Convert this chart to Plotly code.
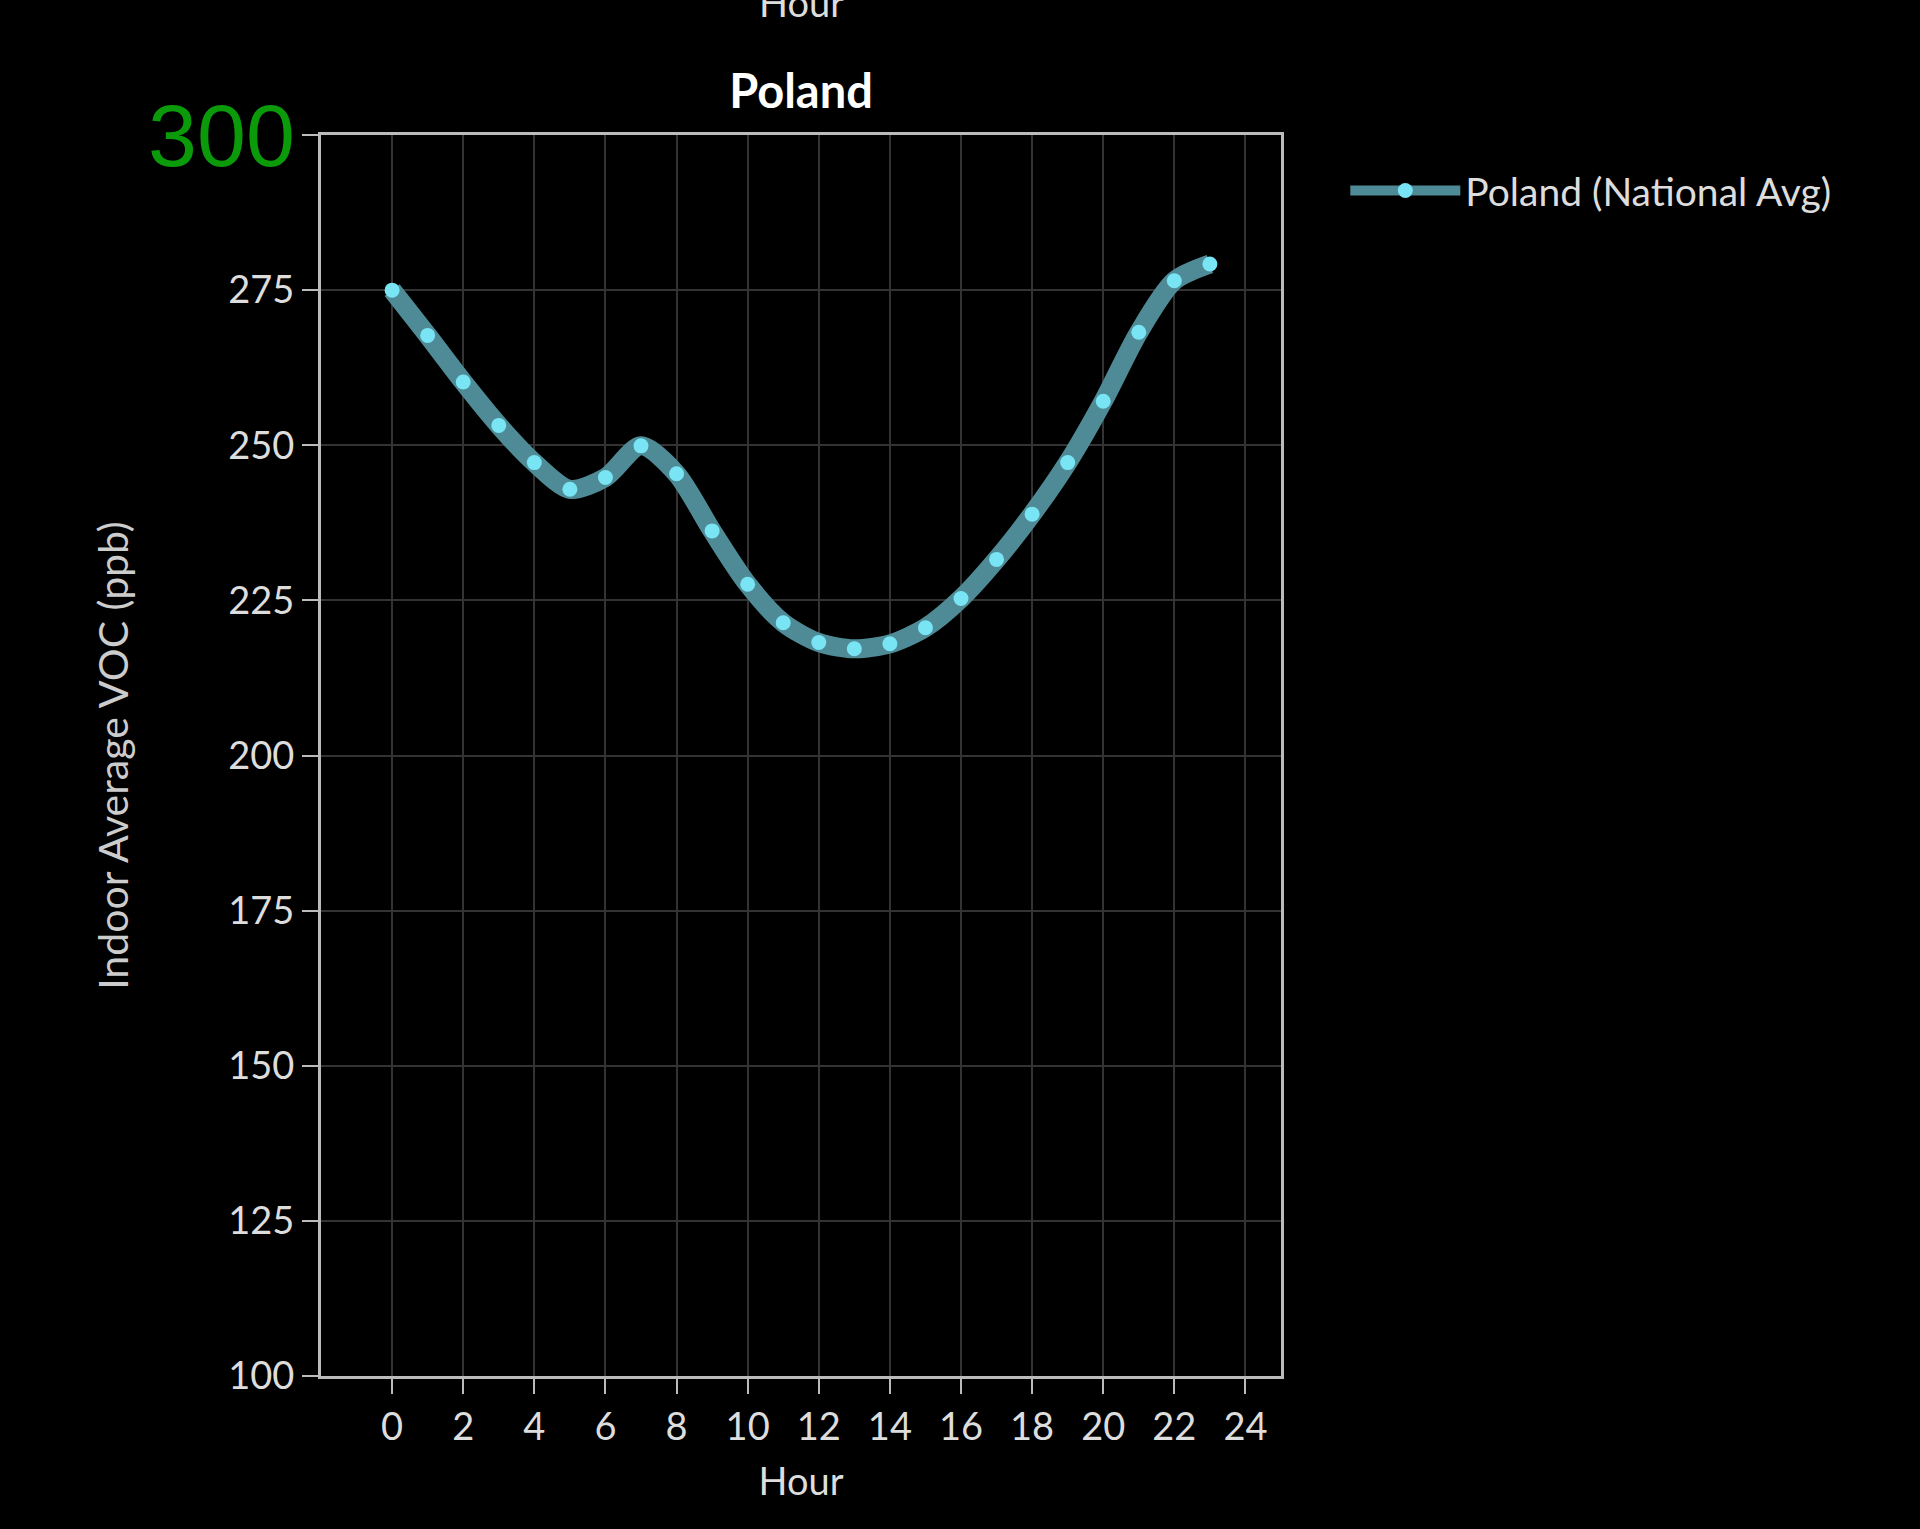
import plotly.graph_objects as go

hours = list(range(24))
voc = [275.0, 267.7, 260.2, 253.2, 247.2, 242.9, 244.8, 249.9, 245.4, 236.2,
       227.6, 221.4, 218.2, 217.2, 218.0, 220.6, 225.3, 231.6, 238.9, 247.2,
       257.1, 268.2, 276.5, 279.2]
series_name = "Poland (National Avg)"
title_text = "Poland"
x_title = "Hour"
y_title = "Indoor Average VOC (ppb)"
x_ticks = list(range(0, 25, 2))
y_ticks = [100, 125, 150, 175, 200, 225, 250, 275, 300]
y_ticktext = ["100", "125", "150", "175", "200", "225", "250", "275", ""]
top_label = "300"

FONT = "Lato"
TXT = "#dddddd"

fig = go.Figure()
fig.add_trace(go.Scatter(
    x=hours, y=voc, name=series_name, mode="lines+markers",
    line=dict(color="#4f8b96", width=19, shape="spline", smoothing=0.8),
    marker=dict(color="#78e4f4", size=15),
))

fig.update_layout(
    width=1920, height=1529,
    paper_bgcolor="black", plot_bgcolor="black",
    margin=dict(l=321, r=639, t=135, b=153),
    font=dict(family=FONT, color=TXT, size=38),
    title=dict(text="<b>" + title_text + "</b>", x=0.5, xref="paper",
               xanchor="center", y=1 - 92 / 1529, yanchor="middle",
               font=dict(size=47, color="white")),
    showlegend=True,
    legend=dict(x=1.067, y=0.981, xanchor="left", yanchor="top",
                font=dict(size=39, color=TXT), itemwidth=110,
                bgcolor="rgba(0,0,0,0)"),
    xaxis=dict(range=[-2, 25], tickvals=x_ticks, showgrid=True,
               gridcolor="#333333", gridwidth=2, zeroline=False,
               showline=True, linecolor="#bbbbbb", linewidth=3, mirror=True,
               ticks="outside", ticklen=15, tickwidth=2, tickcolor="#bbbbbb",
               tickfont=dict(size=38, color=TXT),
               title=dict(text=x_title, font=dict(size=38, color=TXT), standoff=22)),
    yaxis=dict(range=[100, 300], tickvals=y_ticks, ticktext=y_ticktext,
               showgrid=True, gridcolor="#333333", gridwidth=2, zeroline=False,
               showline=True, linecolor="#bbbbbb", linewidth=3, mirror=True,
               ticks="outside", ticklen=16, tickwidth=2, tickcolor="#bbbbbb",
               tickfont=dict(size=38, color=TXT),
               title=dict(text=y_title, font=dict(size=41, color="#cccccc"), standoff=87)),
)

fig.add_annotation(text=top_label, xref="paper", yref="y", x=0, y=300,
                   xanchor="right", yanchor="middle", xshift=-24, showarrow=False,
                   font=dict(family="Liberation Sans", size=88, color="#0a9a0a"))
fig.add_annotation(text=x_title, xref="paper", yref="paper", x=0.5, y=1,
                   xanchor="center", yanchor="bottom", yshift=108, showarrow=False,
                   font=dict(size=38, color=TXT))

fig.write_html(
    "out.html",
    config={"displayModeBar": False},
    post_script="document.body.style.margin='0';document.body.style.background='black';"
                "document.documentElement.style.background='black';",
)
